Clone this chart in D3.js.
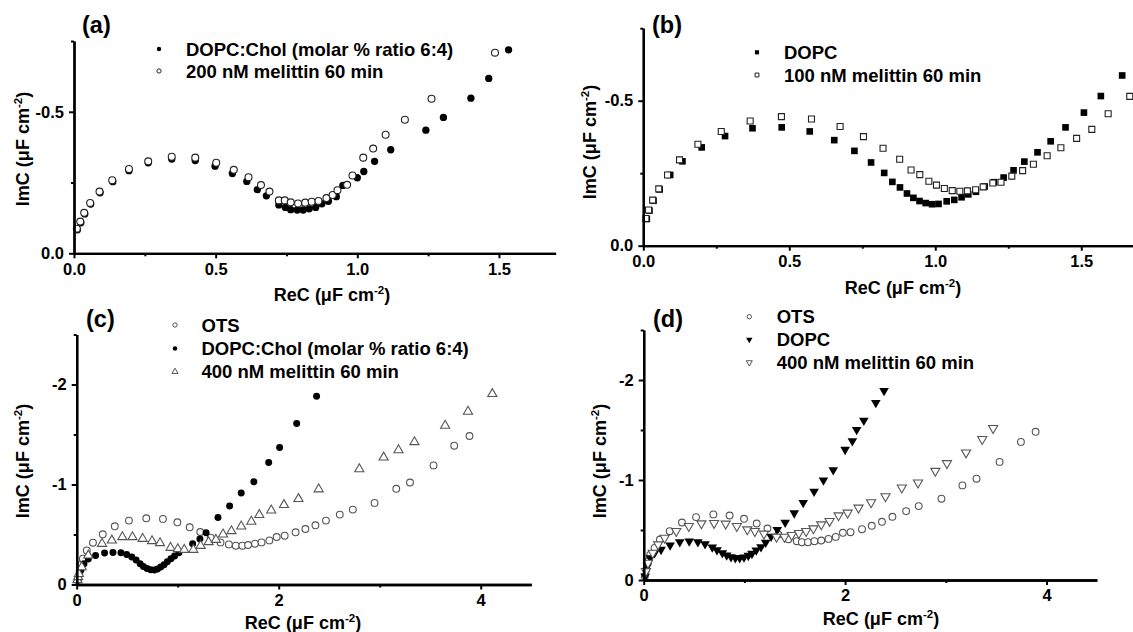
<!DOCTYPE html>
<html>
<head>
<meta charset="utf-8">
<script src="https://cdn.jsdelivr.net/npm/d3@7"></script>
<style>
  html, body { margin: 0; padding: 0; background: #fff; }
  svg { display: block; font-family: "Liberation Sans", Arial, Helvetica, sans-serif; font-weight: bold; }
</style>
</head>
<body>
<svg id="chart" width="1133" height="632"></svg>
<script>
// ---- Complex capacitance data: ReC and ImC in µF cm^-2 ----

// (a) DOPC:Chol bilayer before / after 200 nM melittin
const aCholRe = [0.012,0.024,0.038,0.059,0.092,0.137,0.194,0.262,0.345,0.428,0.498,0.559,0.610,0.647,0.679,0.723,0.746,0.765,0.788,0.809,0.830,0.853,0.875,0.898,0.926,0.949,1.000,1.023,1.061,1.118,1.242,1.304,1.401,1.464,1.534];
const aCholIm = [-0.083,-0.108,-0.139,-0.174,-0.214,-0.253,-0.292,-0.320,-0.333,-0.328,-0.308,-0.282,-0.254,-0.225,-0.203,-0.171,-0.162,-0.154,-0.153,-0.153,-0.157,-0.162,-0.175,-0.184,-0.200,-0.240,-0.267,-0.289,-0.325,-0.366,-0.435,-0.480,-0.548,-0.618,-0.719];
const aMelRe = [0.010,0.022,0.036,0.057,0.090,0.135,0.194,0.262,0.345,0.428,0.502,0.564,0.616,0.660,0.690,0.723,0.744,0.765,0.791,0.816,0.839,0.863,0.891,0.913,0.930,0.964,0.983,1.021,1.056,1.100,1.168,1.262,1.486];
const aMelIm = [-0.087,-0.112,-0.143,-0.178,-0.218,-0.258,-0.298,-0.325,-0.341,-0.338,-0.320,-0.295,-0.269,-0.241,-0.218,-0.187,-0.187,-0.180,-0.176,-0.179,-0.182,-0.185,-0.195,-0.206,-0.223,-0.242,-0.275,-0.338,-0.370,-0.419,-0.472,-0.546,-0.709];

// (b) DOPC bilayer before / after 100 nM melittin
const bDopcRe = [0.012,0.021,0.035,0.056,0.092,0.134,0.200,0.280,0.374,0.474,0.570,0.654,0.723,0.780,0.825,0.853,0.879,0.903,0.925,0.946,0.967,0.989,1.011,1.039,1.065,1.090,1.113,1.139,1.169,1.201,1.234,1.268,1.305,1.350,1.395,1.446,1.509,1.567,1.640];
const bDopcIm = [-0.092,-0.121,-0.155,-0.194,-0.244,-0.291,-0.339,-0.378,-0.405,-0.408,-0.394,-0.364,-0.327,-0.287,-0.251,-0.220,-0.201,-0.180,-0.165,-0.154,-0.147,-0.143,-0.144,-0.153,-0.158,-0.167,-0.177,-0.186,-0.204,-0.219,-0.235,-0.260,-0.290,-0.322,-0.360,-0.408,-0.459,-0.516,-0.587];
const bMelRe = [0.009,0.018,0.032,0.053,0.083,0.124,0.187,0.267,0.366,0.473,0.576,0.674,0.754,0.821,0.878,0.917,0.947,0.978,1.004,1.031,1.058,1.084,1.110,1.138,1.164,1.197,1.225,1.262,1.299,1.336,1.383,1.430,1.484,1.536,1.592,1.666];
const bMelIm = [-0.094,-0.123,-0.157,-0.196,-0.244,-0.296,-0.350,-0.394,-0.430,-0.445,-0.437,-0.411,-0.376,-0.336,-0.298,-0.261,-0.245,-0.222,-0.209,-0.197,-0.190,-0.188,-0.189,-0.193,-0.203,-0.216,-0.219,-0.240,-0.259,-0.281,-0.310,-0.338,-0.370,-0.401,-0.455,-0.515];

// (c) OTS substrate, DOPC:Chol bilayer, 400 nM melittin
const cOtsRe = [0.014,0.029,0.050,0.061,0.100,0.161,0.258,0.377,0.517,0.689,0.854,0.997,1.119,1.223,1.327,1.424,1.507,1.575,1.640,1.697,1.765,1.830,1.908,1.980,2.059,2.167,2.264,2.364,2.468,2.605,2.734,2.949,3.164,3.300,3.533,3.738,3.889];
const cOtsIm = [-0.057,-0.124,-0.207,-0.258,-0.341,-0.418,-0.502,-0.582,-0.639,-0.662,-0.656,-0.622,-0.572,-0.525,-0.468,-0.421,-0.401,-0.388,-0.388,-0.395,-0.408,-0.421,-0.441,-0.475,-0.488,-0.522,-0.555,-0.592,-0.639,-0.699,-0.749,-0.816,-0.957,-1.020,-1.191,-1.388,-1.485];
const cCholRe = [0.007,0.022,0.043,0.072,0.115,0.187,0.276,0.359,0.438,0.495,0.545,0.588,0.628,0.660,0.696,0.732,0.768,0.800,0.832,0.865,0.897,0.933,0.969,1.012,1.148,1.220,1.281,1.399,1.514,1.629,1.754,1.901,2.009,2.178,2.375];
const cCholIm = [-0.040,-0.090,-0.147,-0.207,-0.254,-0.291,-0.314,-0.321,-0.318,-0.301,-0.274,-0.244,-0.207,-0.181,-0.161,-0.147,-0.144,-0.154,-0.174,-0.197,-0.227,-0.258,-0.284,-0.318,-0.408,-0.455,-0.518,-0.669,-0.786,-0.916,-1.027,-1.221,-1.371,-1.609,-1.883];
const cMelRe = [0.008,0.014,0.022,0.050,0.115,0.251,0.348,0.452,0.552,0.653,0.746,0.825,0.929,1.001,1.065,1.155,1.227,1.306,1.378,1.449,1.532,1.629,1.729,1.808,1.926,2.052,2.196,2.396,2.798,3.039,3.186,3.344,3.648,3.874,4.115];
const cMelIm = [-0.045,-0.075,-0.107,-0.174,-0.291,-0.408,-0.441,-0.475,-0.475,-0.458,-0.435,-0.415,-0.368,-0.355,-0.348,-0.348,-0.388,-0.425,-0.448,-0.502,-0.535,-0.582,-0.629,-0.696,-0.742,-0.796,-0.856,-0.953,-1.154,-1.271,-1.344,-1.425,-1.589,-1.729,-1.906];

// (d) OTS substrate, DOPC bilayer, 400 nM melittin
const dOtsRe = [0.011,0.025,0.043,0.065,0.108,0.161,0.258,0.380,0.520,0.692,0.853,0.996,1.122,1.229,1.337,1.437,1.520,1.570,1.631,1.695,1.763,1.835,1.907,1.978,2.054,2.168,2.265,2.366,2.470,2.606,2.731,2.957,3.165,3.305,3.534,3.746,3.892];
const dOtsIm = [-0.037,-0.104,-0.187,-0.254,-0.321,-0.405,-0.488,-0.575,-0.629,-0.656,-0.645,-0.612,-0.565,-0.515,-0.455,-0.408,-0.388,-0.378,-0.378,-0.388,-0.395,-0.411,-0.431,-0.472,-0.478,-0.508,-0.542,-0.582,-0.632,-0.689,-0.739,-0.813,-0.946,-1.013,-1.181,-1.381,-1.482];
const dDopcRe = [0.014,0.036,0.065,0.108,0.172,0.262,0.358,0.452,0.538,0.609,0.681,0.728,0.781,0.824,0.867,0.910,0.953,0.996,1.039,1.075,1.118,1.165,1.211,1.265,1.326,1.405,1.495,1.584,1.692,1.785,1.882,2.000,2.072,2.115,2.186,2.305,2.387];
const dDopcIm = [-0.037,-0.137,-0.221,-0.271,-0.304,-0.348,-0.381,-0.388,-0.381,-0.361,-0.328,-0.301,-0.271,-0.247,-0.231,-0.221,-0.221,-0.227,-0.244,-0.264,-0.298,-0.331,-0.375,-0.435,-0.502,-0.575,-0.669,-0.773,-0.886,-0.997,-1.100,-1.304,-1.391,-1.502,-1.595,-1.773,-1.893];
const dMelRe = [0.022,0.043,0.090,0.143,0.208,0.323,0.448,0.573,0.699,0.814,0.925,1.029,1.104,1.194,1.319,1.398,1.470,1.541,1.613,1.685,1.763,1.846,1.935,2.025,2.133,2.258,2.401,2.563,2.724,2.896,3.011,3.201,3.362,3.470];
const dMelIm = [-0.087,-0.171,-0.271,-0.355,-0.421,-0.488,-0.538,-0.565,-0.569,-0.562,-0.538,-0.505,-0.488,-0.462,-0.431,-0.431,-0.448,-0.468,-0.488,-0.515,-0.555,-0.589,-0.645,-0.672,-0.722,-0.776,-0.836,-0.923,-0.973,-1.090,-1.167,-1.274,-1.408,-1.518];

// Legend texts and panel labels
const aLegend = ["DOPC:Chol (molar % ratio 6:4)", "200 nM melittin 60 min"];
const bLegend = ["DOPC", "100 nM melittin 60 min"];
const cLegend = ["OTS", "DOPC:Chol (molar % ratio 6:4)", "400 nM melittin 60 min"];
const dLegend = ["OTS", "DOPC", "400 nM melittin 60 min"];
const panelLabels = ["(a)", "(b)", "(c)", "(d)"];

// Tick values
const smallXTicks = [0, 0.5, 1.0, 1.5];
const smallXMinor = [0.25, 0.75, 1.25, 1.75];
const smallYTicks = [0, -0.5];
const smallYMinor = [-0.25, -0.75];
const wideXTicks = [0, 2, 4];
const wideXMinor = [1, 3];
const wideYTicks = [0, -1, -2];
const wideYMinor = [-0.5, -1.5, -2.5];

// ---- Drawing ----
const svg = d3.select("#chart");
const FONT = '"Liberation Sans", Arial, Helvetica, sans-serif';

const fmt1 = d => (d < 0 ? "-" : "") + Math.abs(d).toFixed(1);
const fmt0 = d => (d < 0 ? "-" : "") + Math.abs(d).toFixed(0);

function markerPath(kind, size) {
  const types = { circle: d3.symbolCircle, square: d3.symbolSquare, up: d3.symbolTriangle, down: d3.symbolTriangle };
  return d3.symbol().type(types[kind]).size(size)();
}

function drawMarkers(g, pts, s, x, y) {
  const path = markerPath(s.kind, s.size);
  g.append("g").selectAll("path")
    .data(pts)
    .join("path")
    .attr("d", path)
    .attr("transform", d => `translate(${x(d[0])},${y(d[1])})` + (s.kind === "down" ? " rotate(180)" : ""))
    .attr("fill", s.filled ? "#000" : "#fff")
    .attr("stroke", s.filled ? "none" : s.stroke)
    .attr("stroke-width", s.filled ? 0 : 1.1);
}

function unitText(sel) {
  sel.append("tspan").text("(\u03bcF cm");
  sel.append("tspan").attr("font-size", 11.5).attr("dy", -7.5).text("-2");
  sel.append("tspan").attr("dy", 7.5).text(")");
}

function drawPanel(p) {
  const g = svg.append("g");
  const x = d3.scaleLinear().domain([0, p.xMax]).range([p.left, p.left + p.xMax * p.xUnit]);
  const y = d3.scaleLinear().domain([0, p.yMin]).range([p.base, p.base + p.yMin * p.yUnit]);

  // series
  p.series.forEach(s => drawMarkers(g, d3.zip(s.re, s.im), s, x, y));

  // axes: minor ticks first, then major ticks with labels
  const styleAxis = sel => {
    sel.selectAll("path.domain").attr("stroke", "#000").attr("stroke-width", 2.3);
    sel.selectAll(".tick line").attr("stroke", "#000").attr("stroke-width", 2);
    sel.selectAll(".tick text").attr("font-family", FONT).attr("font-weight", "bold")
      .attr("font-size", 16.5).attr("fill", "#000");
    sel.attr("font-family", FONT);
  };
  g.append("g").attr("transform", `translate(0,${p.base})`)
    .call(d3.axisBottom(x).tickValues(p.xMinor.filter(v => v <= p.xMax)).tickSize(3).tickSizeOuter(0).tickFormat(""))
    .call(styleAxis);
  g.append("g").attr("transform", `translate(${p.left},0)`)
    .call(d3.axisLeft(y).tickValues(p.yMinor).tickSize(3).tickSizeOuter(0).tickFormat(""))
    .call(styleAxis);
  g.append("g").attr("transform", `translate(0,${p.base})`)
    .call(d3.axisBottom(x).tickValues(p.xTicks).tickSize(5).tickPadding(4.5).tickSizeOuter(0).tickFormat(p.fmt))
    .call(styleAxis);
  g.append("g").attr("transform", `translate(${p.left},0)`)
    .call(d3.axisLeft(y).tickValues(p.yTicks).tickSize(5).tickPadding(5).tickSizeOuter(0).tickFormat(p.fmt))
    .call(styleAxis);

  // axis titles
  const xt = g.append("text").attr("x", p.xTitle[0]).attr("y", p.xTitle[1])
    .attr("text-anchor", "middle").attr("font-size", 18);
  xt.append("tspan").text("ReC ");
  unitText(xt);

  const yt = g.append("text").attr("text-anchor", "middle").attr("font-size", 18)
    .attr("transform", `translate(${p.yTitle[0]},${p.yTitle[1]}) rotate(-90)`).attr("dy", "0.35em");
  yt.append("tspan").text("ImC ");
  unitText(yt);

  // panel label
  g.append("text").attr("x", p.label[0]).attr("y", p.label[1]).attr("font-size", 23.5).text(p.labelText);

  // legend
  p.series.forEach((s, i) => {
    const ly = p.legend.rows[i];
    g.append("path").attr("d", markerPath(s.kind, s.legendSize))
      .attr("transform", `translate(${p.legend.mx},${ly})` + (s.kind === "down" ? " rotate(180)" : ""))
      .attr("fill", s.filled ? "#000" : "#fff")
      .attr("stroke", s.filled ? "none" : s.stroke)
      .attr("stroke-width", s.filled ? 0 : 1);
    g.append("text").attr("x", p.legend.tx).attr("y", ly).attr("dy", "0.36em")
      .attr("font-size", 18.5).text(p.legendText[i]);
  });
}

const OPEN_DARK = "#222";
const OPEN_GREY = "#555";

drawPanel({
  left: 74, base: 253.3, xUnit: 283.3, yUnit: 283, xMax: 1.7, yMin: -0.75,
  xTicks: smallXTicks, xMinor: smallXMinor, yTicks: smallYTicks, yMinor: smallYMinor, fmt: fmt1,
  xTitle: [332, 301], yTitle: [23, 149], label: [82, 33], labelText: panelLabels[0],
  legend: { mx: 159, tx: 186, rows: [49, 71] }, legendText: aLegend,
  series: [
    { re: aCholRe, im: aCholIm, kind: "circle", filled: true, size: 42, legendSize: 15 },
    { re: aMelRe, im: aMelIm, kind: "circle", filled: false, stroke: OPEN_DARK, size: 38, legendSize: 14 }
  ]
});

drawPanel({
  left: 643.3, base: 245.7, xUnit: 292, yUnit: 290, xMax: 1.75, yMin: -0.75,
  xTicks: smallXTicks, xMinor: smallXMinor, yTicks: smallYTicks, yMinor: smallYMinor, fmt: fmt1,
  xTitle: [903, 294], yTitle: [590, 142], label: [652, 33], labelText: panelLabels[1],
  legend: { mx: 757, tx: 784, rows: [52.3, 75] }, legendText: bLegend,
  series: [
    { re: bDopcRe, im: bDopcIm, kind: "square", filled: true, size: 44, legendSize: 17 },
    { re: bMelRe, im: bMelIm, kind: "square", filled: false, stroke: OPEN_DARK, size: 36, legendSize: 15 }
  ]
});

drawPanel({
  left: 76.7, base: 584.5, xUnit: 101, yUnit: 100, xMax: 4.5, yMin: -2.5,
  xTicks: wideXTicks, xMinor: wideXMinor, yTicks: wideYTicks, yMinor: wideYMinor, fmt: fmt0,
  xTitle: [303, 629], yTitle: [23, 461], label: [86, 327], labelText: panelLabels[2],
  legend: { mx: 175, tx: 201.5, rows: [325, 348.5, 371.7] }, legendText: cLegend,
  series: [
    { re: cOtsRe, im: cOtsIm, kind: "circle", filled: false, stroke: OPEN_GREY, size: 36, legendSize: 15 },
    { re: cCholRe, im: cCholIm, kind: "circle", filled: true, size: 38, legendSize: 16 },
    { re: cMelRe, im: cMelIm, kind: "up", filled: false, stroke: OPEN_GREY, size: 36, legendSize: 16 }
  ]
});

drawPanel({
  left: 643.7, base: 580, xUnit: 100.7, yUnit: 100, xMax: 4.5, yMin: -2.5,
  xTicks: wideXTicks, xMinor: wideXMinor, yTicks: wideYTicks, yMinor: wideYMinor, fmt: fmt0,
  xTitle: [881, 625], yTitle: [600, 461], label: [653, 326.5], labelText: panelLabels[3],
  legend: { mx: 749.3, tx: 776.7, rows: [316.7, 339.5, 362.5] }, legendText: dLegend,
  series: [
    { re: dOtsRe, im: dOtsIm, kind: "circle", filled: false, stroke: OPEN_GREY, size: 36, legendSize: 15 },
    { re: dDopcRe, im: dDopcIm, kind: "down", filled: true, size: 40, legendSize: 18 },
    { re: dMelRe, im: dMelIm, kind: "down", filled: false, stroke: OPEN_GREY, size: 36, legendSize: 16 }
  ]
});
</script>
</body>
</html>
